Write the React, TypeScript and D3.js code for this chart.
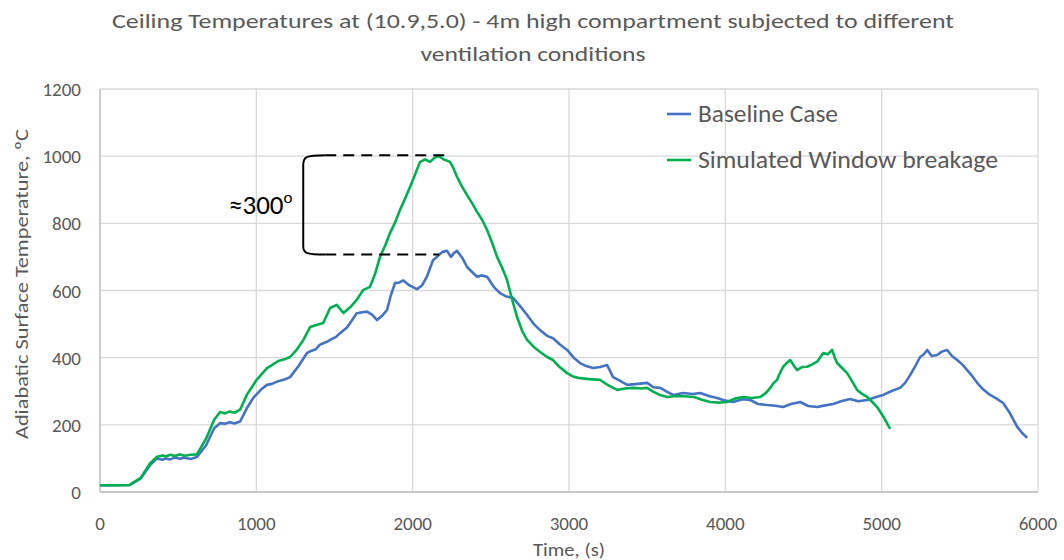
import React from "react";
import * as d3 from "d3";

const title = [
  "Ceiling Temperatures at (10.9,5.0) - 4m high compartment subjected to different",
  "ventilation conditions",
];
const xTicks = [0, 1000, 2000, 3000, 4000, 5000, 6000];
const yTicks = [0, 200, 400, 600, 800, 1000, 1200];
const seriesNames = ["Baseline Case", "Simulated Window breakage"];

// [time s, temperature C]
const baseline: [number, number][] = [
  [0, 20], [100, 20], [190, 21], [260, 40], [320, 80], [365, 100], [400, 96], [420, 100], [450, 97],
  [480, 103], [510, 99], [540, 102], [580, 98], [620, 104], [680, 140], [730, 190], [768, 205],
  [800, 203], [830, 208], [860, 204], [896, 210], [940, 250], [980, 280], [1030, 305], [1068, 319],
  [1100, 322], [1140, 330], [1180, 335], [1216, 342], [1270, 375], [1324, 414], [1350, 420],
  [1380, 425], [1405, 438], [1428, 443], [1455, 448], [1480, 455], [1510, 462], [1535, 473],
  [1580, 490], [1610, 510], [1642, 532], [1680, 535], [1708, 537], [1740, 528], [1772, 512],
  [1805, 525], [1836, 542], [1860, 585], [1887, 622], [1915, 624], [1940, 630], [1980, 615],
  [2027, 604], [2060, 615], [2091, 641], [2130, 690], [2155, 700], [2190, 715], [2220, 718],
  [2245, 700], [2265, 712], [2284, 718], [2320, 695], [2348, 670], [2380, 655], [2412, 641],
  [2440, 645], [2476, 641], [2520, 610], [2559, 592], [2600, 582], [2642, 578], [2690, 552],
  [2732, 527], [2775, 500], [2815, 482], [2860, 465], [2898, 458], [2940, 440], [2988, 423],
  [3030, 400], [3071, 384], [3110, 375], [3154, 369], [3200, 372], [3244, 378], [3282, 342],
  [3330, 330], [3372, 319], [3440, 322], [3500, 325], [3540, 312], [3583, 310], [3628, 298],
  [3666, 289], [3730, 295], [3790, 292], [3839, 295], [3900, 285], [3948, 280], [4000, 272],
  [4050, 268], [4110, 276], [4159, 274], [4210, 262], [4268, 259], [4320, 257], [4370, 253],
  [4420, 262], [4479, 268], [4530, 256], [4587, 253], [4640, 258], [4690, 262], [4740, 270],
  [4798, 277], [4850, 270], [4907, 274], [4960, 282], [5010, 289], [5060, 300], [5118, 310],
  [5150, 325], [5182, 348], [5215, 375], [5246, 402], [5270, 410], [5291, 423], [5320, 405],
  [5355, 408], [5385, 418], [5419, 423], [5450, 405], [5483, 393], [5515, 380], [5547, 363],
  [5580, 345], [5611, 325], [5650, 305], [5694, 289], [5735, 278], [5777, 265], [5820, 235],
  [5867, 194], [5900, 175], [5931, 161],
];

const windowBreak: [number, number][] = [
  [0, 20], [100, 20], [190, 21], [260, 42], [320, 85], [365, 105], [400, 109], [420, 106],
  [450, 111], [480, 107], [510, 112], [540, 108], [580, 111], [620, 112], [680, 160], [730, 215],
  [768, 238], [800, 234], [830, 240], [860, 236], [896, 245], [940, 290], [1002, 334], [1068, 369],
  [1100, 378], [1140, 390], [1180, 395], [1216, 402], [1260, 425], [1301, 453], [1344, 491],
  [1390, 498], [1428, 503], [1472, 548], [1514, 557], [1557, 533], [1600, 550], [1642, 572],
  [1685, 602], [1727, 611], [1760, 650], [1791, 700], [1825, 735], [1855, 771], [1890, 805],
  [1919, 840], [1950, 872], [1983, 908], [2015, 945], [2047, 983], [2080, 990], [2111, 983],
  [2140, 995], [2163, 1001], [2200, 990], [2239, 983], [2260, 965], [2284, 938], [2315, 910],
  [2348, 884], [2380, 860], [2412, 834], [2445, 810], [2476, 780], [2510, 740], [2540, 700],
  [2575, 665], [2604, 631], [2635, 575], [2668, 521], [2700, 480], [2732, 453], [2775, 432],
  [2815, 417], [2860, 402], [2898, 393], [2940, 372], [2988, 354], [3030, 343], [3071, 339],
  [3130, 336], [3199, 334], [3250, 318], [3308, 304], [3360, 308], [3410, 310], [3460, 308],
  [3500, 310], [3540, 298], [3583, 289], [3628, 283], [3680, 286], [3740, 285], [3800, 283],
  [3850, 275], [3903, 268], [3960, 266], [4011, 268], [4060, 278], [4114, 283], [4170, 280],
  [4223, 283], [4260, 295], [4287, 310], [4310, 325], [4331, 334], [4350, 355], [4370, 373],
  [4395, 385], [4415, 393], [4440, 375], [4459, 363], [4490, 372], [4523, 373], [4555, 380],
  [4587, 388], [4605, 400], [4626, 414], [4655, 410], [4683, 423], [4700, 400], [4715, 384],
  [4745, 370], [4779, 354], [4810, 330], [4843, 304], [4875, 292], [4907, 283], [4940, 268],
  [4971, 253], [5010, 225], [5054, 188],
];

const W = 1064;
const H = 560;
const m = { left: 100, right: 26, top: 89, bottom: 68 };

export default function App() {
  const x = d3.scaleLinear().domain([0, 6000]).range([m.left, W - m.right]);
  const y = d3.scaleLinear().domain([0, 1200]).range([H - m.bottom, m.top]);
  const line = d3
    .line<[number, number]>()
    .x((d) => x(d[0]))
    .y((d) => y(d[1]));

  const gray = "#595959";
  const font = "Carlito, Calibri, 'Open Sans', sans-serif";
  const colors = ["#4472C4", "#00B050"];

  // bracket annotation for the peak difference
  const bx = x(1300);
  const bTop = y(1003);
  const bBot = y(707);
  const bracket = `M${bx + 22},${bTop} C${bx + 2},${bTop} ${bx},${bTop + 2} ${bx},${bTop + 10} L${bx},${bBot - 8} C${bx},${bBot - 2} ${bx + 2},${bBot} ${bx + 22},${bBot}`;

  return (
    <svg width={W} height={H} style={{ position: "absolute", left: 0, top: 0 }}>
      <rect width={W} height={H} fill="white" />
      <g fontFamily={font} fill={gray}>
        {title.map((t, i) => (
          <text key={i} x={533} y={28 + i * 33} textAnchor="middle" fontSize={21}
            textLength={i === 0 ? 842 : 225} lengthAdjust="spacingAndGlyphs">
            {t}
          </text>
        ))}
      </g>
      <g>
        {yTicks.map((t) => (
          <line key={t} x1={x(0)} x2={x(6000)} y1={y(t)} y2={y(t)} stroke="#d9d9d9" strokeWidth={1.3} />
        ))}
        {xTicks.map((t) => (
          <line key={t} x1={x(t)} x2={x(t)} y1={y(0)} y2={y(1200)} stroke="#d9d9d9" strokeWidth={1.3} />
        ))}
        <line x1={x(0)} x2={x(6000)} y1={y(0)} y2={y(0)} stroke="#bfbfbf" strokeWidth={1.3} />
        <line x1={x(0)} x2={x(0)} y1={y(0)} y2={y(1200)} stroke="#bfbfbf" strokeWidth={1.3} />
      </g>
      <g fontFamily={font} fill={gray} fontSize={19}>
        {yTicks.map((t) => (
          <text key={t} x={81} y={y(t) + 7} textAnchor="end">{t}</text>
        ))}
        {xTicks.map((t) => (
          <text key={t} x={x(t)} y={530} textAnchor="middle">{t}</text>
        ))}
        <text x={569} y={556} textAnchor="middle" textLength={72} lengthAdjust="spacingAndGlyphs">Time, (s)</text>
        <text transform={`translate(28, 284) rotate(-90)`} textAnchor="middle"
          textLength={310} lengthAdjust="spacingAndGlyphs">
          Adiabatic Surface Temperature, ºC
        </text>
      </g>
      <path d={line(baseline) ?? ""} fill="none" stroke={colors[0]} strokeWidth={2.6} strokeLinejoin="round" />
      <path d={line(windowBreak) ?? ""} fill="none" stroke={colors[1]} strokeWidth={2.6} strokeLinejoin="round" />
      <g fontFamily={font} fontSize={24} fill={gray}>
        {seriesNames.map((n, i) => (
          <g key={n}>
            <line x1={667} x2={691} y1={114 + i * 46} y2={114 + i * 46} stroke={colors[i]} strokeWidth={2.6} />
            <text x={698} y={122 + i * 46} textLength={i === 0 ? 140 : 300} lengthAdjust="spacingAndGlyphs">{n}</text>
          </g>
        ))}
      </g>
      <g>
        <path d={bracket} fill="none" stroke="black" strokeWidth={2} />
        <line x1={bx + 22} x2={x(2210)} y1={bTop} y2={bTop} stroke="black" strokeWidth={2} strokeDasharray="11,7" />
        <line x1={bx + 22} x2={x(2170)} y1={bBot} y2={bBot} stroke="black" strokeWidth={2} strokeDasharray="11,7" />
        <text x={229} y={214} fontFamily={font} fontSize={27} fill="black">
          ≈300<tspan fontSize={17} dy={-11}>o</tspan>
        </text>
      </g>
    </svg>
  );
}
